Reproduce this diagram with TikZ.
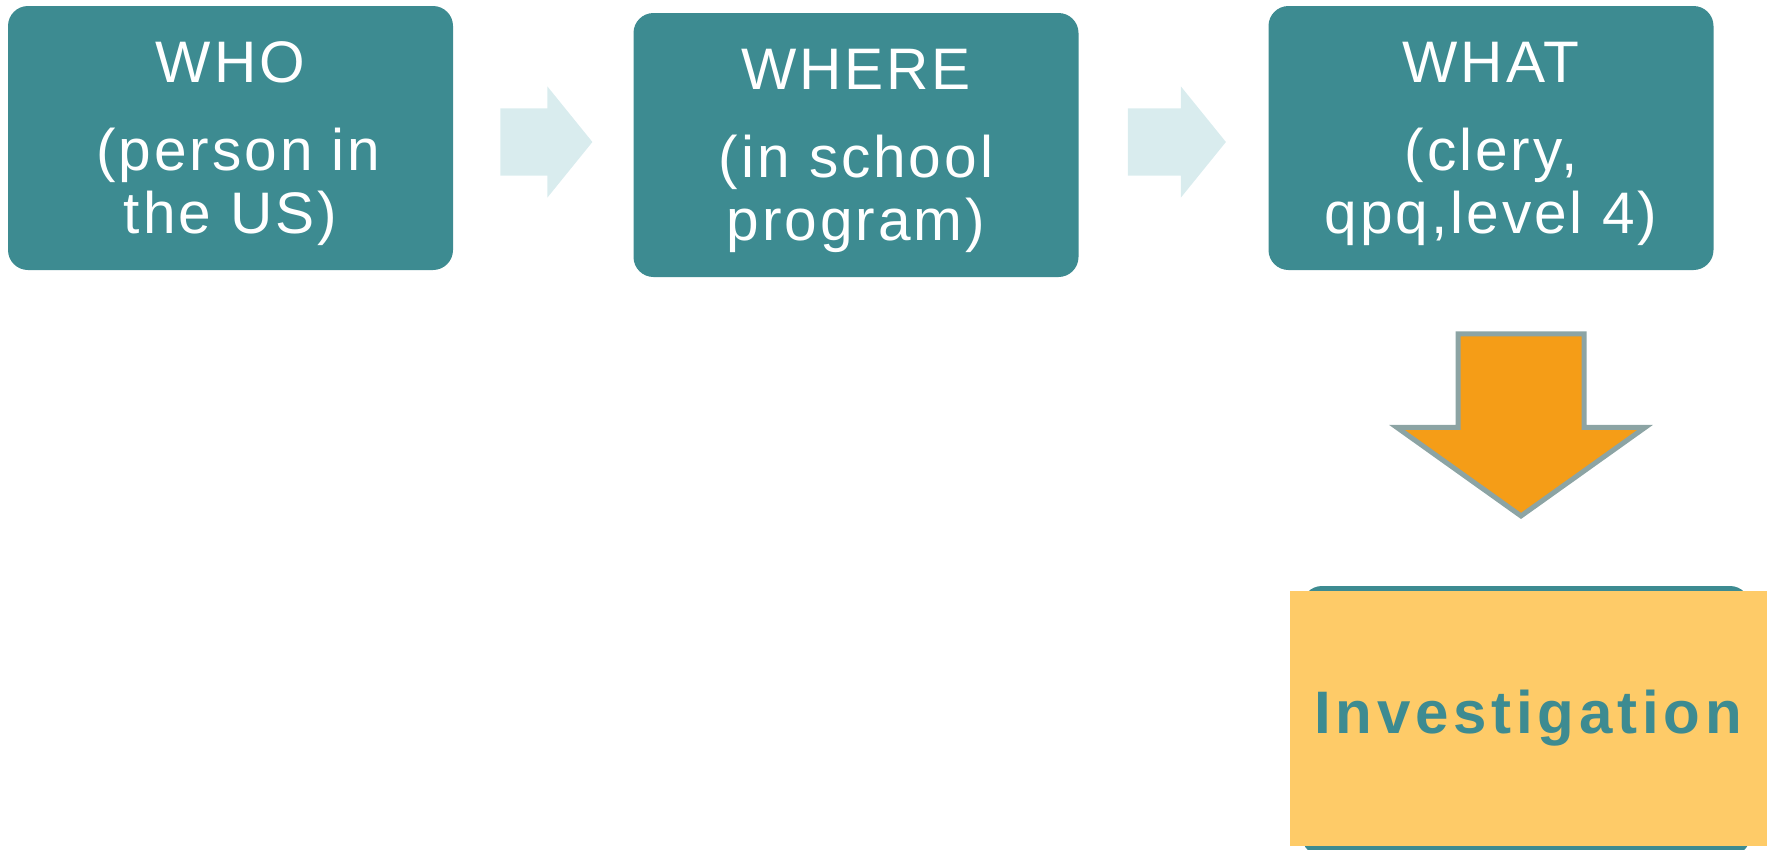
\documentclass[tikz,border=0pt]{standalone}
\usepackage{fontspec}
\setmainfont{Liberation Sans}
\newfontfamily\boxfont{Liberation Sans}[LetterSpace=5]
\newfontfamily\invfont{Liberation Sans}[LetterSpace=8]
\usetikzlibrary{shapes.arrows,calc}
\definecolor{boxteal}{HTML}{3D8B91}
\definecolor{palearrow}{HTML}{D9ECEE}
\definecolor{downorange}{HTML}{F59D17}
\definecolor{downgray}{HTML}{8CA4A4}
\definecolor{invyellow}{HTML}{FECB68}
\begin{document}
\begin{tikzpicture}[x=1pt,y=-1pt]
    \tikzset{stepbox/.style={rounded corners=20pt, fill=boxteal, text=white, align=center,
            minimum width=445pt, minimum height=264pt, inner sep=0pt,
            font=\boxfont\fontsize{58.6pt}{63pt}\selectfont},
        flowarrow/.style={single arrow, fill=palearrow, inner xsep=0pt, inner ysep=33.5pt,
            single arrow head extend=22pt, single arrow tip angle=102, anchor=tail,
            minimum height=#1},
        flowarrow/.default={92pt}}
    \useasboundingbox (0,0) rectangle (1767,849);

    %Boxes
    \node[stepbox] (who) at (230.5,138)
        {\rule{0pt}{52pt}WHO\\[25pt]\hspace*{16pt}(person in\\the US)};
    \node[stepbox] (where) at (856,145)
        {\rule{0pt}{52pt}WHERE\\[25pt](in school\\program)};
    \node[stepbox] (what) at (1491,138)
        {\rule{0pt}{52pt}WHAT\\[25pt](clery,\\qpq,level 4)};

    %Arrows
    \node[flowarrow] (arrowa) at ($(who.east)+(47,4)$) {};
    \node[flowarrow=98pt] (arrowb) at ($(where.east)+(49,-3)$) {};
    \node[single arrow, rotate=-90, fill=downorange, draw=downgray, line width=5pt,
        inner xsep=0pt, inner ysep=60.5pt, single arrow head extend=61pt,
        single arrow tip angle=109, minimum height=182pt, anchor=tip]
        (down) at (1521,519) {};

    %Investigation
    \node[rounded corners=20pt, fill=boxteal, minimum width=448pt, minimum height=270pt]
        (invbox) at (1526,721) {};
    \node[fill=invyellow, text=boxteal, minimum width=490pt, minimum height=255pt,
        font=\invfont\bfseries\fontsize{60pt}{62pt}\selectfont]
        (inv) at (1535,718.5) {\hspace*{-14pt}Investigation};

\end{tikzpicture}
\end{document}
